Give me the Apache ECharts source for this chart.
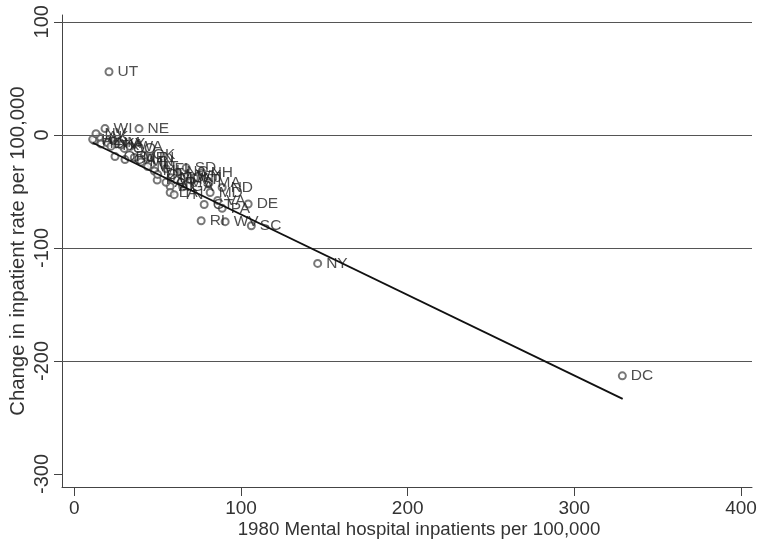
<!DOCTYPE html>
<html>
<head>
<meta charset="utf-8">
<script src="https://cdn.jsdelivr.net/npm/echarts@6/dist/echarts.min.js"></script>
<style>html,body{margin:0;padding:0;background:#fff;}#c{width:762px;height:544px;}</style>
</head>
<body>
<div id="c"></div>
<script>
var states = ["AL","AK","AZ","AR","CA","CO","CT","DE","DC","FL","GA","HI","ID","IL","IN","IA","KS","KY","LA","ME","MD","MA","MI","MN","MS","MO","MT","NE","NV","NH","NJ","NM","NY","NC","ND","OH","OK","OR","PA","RI","SC","SD","TN","TX","UT","VT","VA","WA","WV","WI","WY"];
var inpatients1980 = [57.5,15,12,55,30.4,30,77.9,104.3,328.8,55,65,11,16,46,45.5,28,49.7,25,57.5,36,81.5,80.8,48,40,64,58,44,38.8,13,76.7,72,20,146,62,88.7,50,42,24.4,88.7,76.1,106.2,67.1,59.9,22,20.8,70,86,33.4,90.5,18.4,68];
var changeRate = [-45.6,-2,-5,-42,-21.9,-12,-61.6,-61.2,-213.2,-30,-46,-4,-8,-26,-20,-9,-40,-8,-51,-20,-51,-42.6,-32,-24,-42,-38,-28,5.5,1,-33.6,-38,-7,-113.7,-33,-46.6,-35,-18,-19.2,-65,-76,-80.4,-29.2,-52.9,-10,55.8,-40,-58,-10.4,-76.8,5.5,-36];
var fitX = [11, 329];
var fitY = [-7.0, -233.6];
var xTicks = [0, 100, 200, 300, 400];
var yTicks = [-300, -200, -100, 0, 100];
var gridValues = [100, 0, -100, -200];

var pts = states.map(function(s, i){ return {name: s, value: [inpatients1980[i], changeRate[i]]}; });
var fitLine = fitX.map(function(x, i){ return [x, fitY[i]]; });
var font = '"Liberation Sans", Arial, Helvetica, sans-serif';

var chart = echarts.init(document.getElementById('c'), null, {renderer: 'canvas'});
chart.setOption({
  animation: false,
  backgroundColor: '#ffffff',
  grid: {left: 62, right: 10, top: 15, bottom: 57, containLabel: false, outerBoundsMode: 'none'},
  xAxis: {
    type: 'value', min: -7.4, max: 406.6,
    name: '1980 Mental hospital inpatients per 100,000',
    nameLocation: 'middle', nameGap: 33, nameMoveOverlap: false,
    nameTextStyle: {fontFamily: font, fontSize: 18.7, color: '#333', padding: [0, 0, 0, 24]},
    axisLine: {show: true, onZero: false, lineStyle: {color: '#444', width: 1}},
    axisTick: {show: true, length: 9, customValues: xTicks, lineStyle: {color: '#444'}},
    axisLabel: {customValues: xTicks, fontFamily: font, fontSize: 19, color: '#333', margin: 12},
    splitLine: {show: false}
  },
  yAxis: {
    type: 'value', min: -311.5, max: 106,
    name: 'Change in inpatient rate per 100,000',
    nameLocation: 'middle', nameGap: 34, nameRotate: 90, nameMoveOverlap: false,
    nameTextStyle: {fontFamily: font, fontSize: 20.3, color: '#333'},
    axisLine: {show: true, onZero: false, lineStyle: {color: '#444', width: 1}},
    axisTick: {show: true, length: 8, customValues: yTicks, lineStyle: {color: '#444'}},
    axisLabel: {customValues: yTicks, rotate: 90, fontFamily: font, fontSize: 20, color: '#333', margin: 10},
    splitLine: {show: false}
  },
  series: [
    {
      type: 'line', data: [], silent: true,
      markLine: {
        silent: true, symbol: ['none','none'], label: {show: false},
        lineStyle: {color: '#555', width: 1, type: 'solid'},
        data: gridValues.map(function(v){ return {yAxis: v}; })
      }
    },
    {
      type: 'scatter', data: pts, symbol: 'emptyCircle', symbolSize: 7,
      itemStyle: {color: '#555', borderColor: '#555', borderWidth: 1.6},
      label: {show: true, position: 'right', distance: 4, formatter: '{b}', fontFamily: font, fontSize: 15.5, color: '#222'},
      labelLayout: {hideOverlap: false}
    },
    {
      type: 'line', data: fitLine, showSymbol: false, symbol: 'none',
      lineStyle: {color: '#111', width: 1.8}, z: 5
    }
  ]
});
</script>
</body>
</html>
